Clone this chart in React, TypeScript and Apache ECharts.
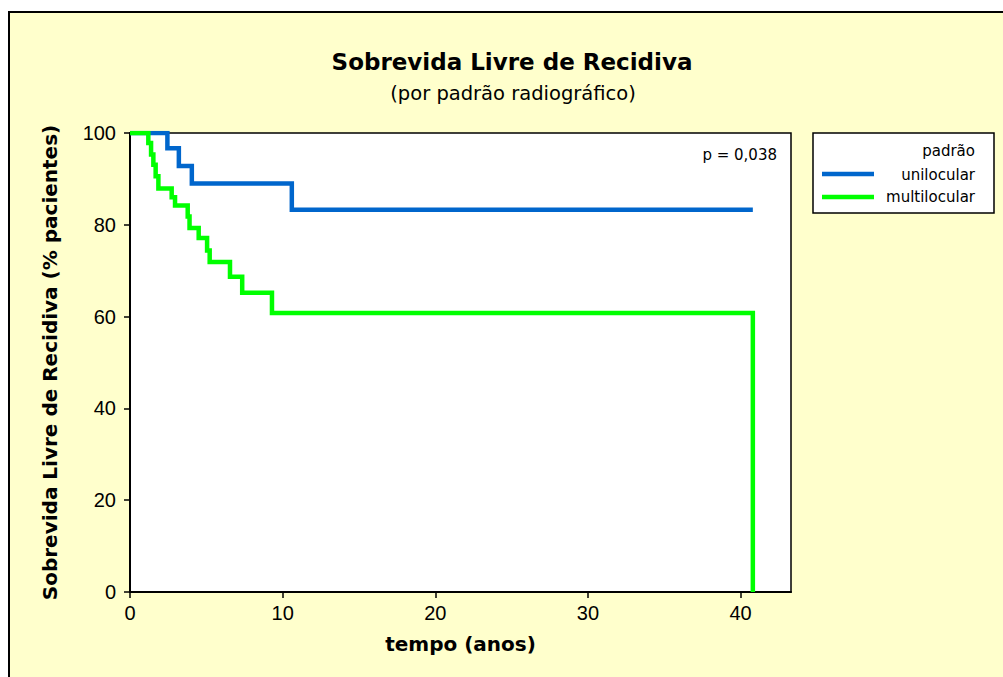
import React, { useEffect, useRef } from "react";
import * as echarts from "echarts";

const titleText = "Sobrevida Livre de Recidiva";
const subtitleText = "(por padrão radiográfico)";
const xAxisName = "tempo (anos)";
const yAxisName = "Sobrevida Livre de Recidiva (% pacientes)";
const pValueText = "p = 0,038";
const legendTitle = "padrão";

const xTicks = [0, 10, 20, 30, 40];
const yTicks = [0, 20, 40, 60, 80, 100];

// Kaplan-Meier steps: [time (years), survival (%)]
const unilocularTimes = [0, 2.45, 3.2, 4.05, 10.6, 40.8];
const unilocularValues = [100, 96.7, 92.8, 89.0, 83.3, 83.3];

const multilocularTimes = [0, 1.2, 1.38, 1.53, 1.68, 1.86, 2.73, 2.95, 3.78, 3.9, 4.5, 5.05, 5.22, 6.55, 7.35, 9.3, 40.8];
const multilocularValues = [100, 97.8, 95.3, 93.1, 90.6, 87.9, 86.0, 84.2, 81.8, 79.3, 77.1, 74.4, 71.9, 68.7, 65.2, 60.8, 0];

const seriesNames = ["unilocular", "multilocular"];
const seriesColors = ["#0066CC", "#00FF00"];

export default function App() {
  const ref = useRef<HTMLDivElement>(null);
  useEffect(() => {
    if (!ref.current) return;
    const chart = echarts.init(ref.current, undefined, { renderer: "svg" });
    const font = "'Liberation Sans', Arial, sans-serif";
    const wideFont = "'DejaVu Sans', Verdana, sans-serif";
    const uni = unilocularTimes.map((t, i) => [t, unilocularValues[i]]);
    const multi = multilocularTimes.map((t, i) => [t, multilocularValues[i]]);
    chart.setOption({
      animation: false,
      backgroundColor: "#ffffff",
      grid: {
        left: 130,
        top: 133,
        right: 212,
        bottom: 85,
        show: true,
        backgroundColor: "#ffffff",
        borderColor: "#000000",
        borderWidth: 1.5,
      },
      xAxis: {
        type: "value",
        min: 0,
        max: 43.3,
        interval: 10,
        name: xAxisName,
        nameLocation: "middle",
        nameGap: 42,
        nameTextStyle: { fontFamily: wideFont, fontWeight: "bold", fontSize: 20, color: "#000" },
        axisLine: { lineStyle: { color: "#000", width: 2 } },
        axisTick: { length: 6, lineStyle: { color: "#000", width: 1.5 }, customValues: xTicks },
        axisLabel: { customValues: xTicks, fontFamily: font, fontSize: 20, color: "#000", margin: 11 },
        splitLine: { show: false },
      },
      yAxis: {
        type: "value",
        min: 0,
        max: 100,
        interval: 20,
        name: yAxisName,
        nameLocation: "middle",
        nameGap: 70,
        nameTextStyle: { fontFamily: wideFont, fontWeight: "bold", fontSize: 20, color: "#000" },
        axisLine: { lineStyle: { color: "#000", width: 2 } },
        axisTick: { length: 6, lineStyle: { color: "#000", width: 1.5 }, customValues: yTicks },
        axisLabel: { customValues: yTicks, fontFamily: font, fontSize: 20, color: "#000", margin: 14 },
        splitLine: { show: false },
      },
      series: [
        {
          name: seriesNames[0],
          type: "line",
          step: "end",
          data: uni,
          symbol: "none",
          lineStyle: { color: seriesColors[0], width: 4.5, cap: "butt", join: "miter" },
          z: 2,
        },
        {
          name: seriesNames[1],
          type: "line",
          step: "end",
          data: multi,
          symbol: "none",
          lineStyle: { color: seriesColors[1], width: 4.5, cap: "butt", join: "miter" },
          z: 3,
        },
      ],
      graphic: [
        {
          type: "rect",
          z: -10,
          silent: true,
          shape: { x: 9, y: 12, width: 1010, height: 700 },
          style: { fill: "#FFFFCC", stroke: "#000", lineWidth: 2 },
        },
        {
          type: "text",
          x: 512,
          y: 62,
          style: { text: titleText, fontFamily: wideFont, fontWeight: "bold", fontSize: 23, fill: "#000", textAlign: "center", textVerticalAlign: "middle" },
        },
        {
          type: "text",
          x: 513,
          y: 93,
          style: { text: subtitleText, fontFamily: wideFont, fontSize: 19.5, fill: "#000", textAlign: "center", textVerticalAlign: "middle" },
        },
        {
          type: "text",
          x: 777,
          y: 155,
          style: { text: pValueText, fontFamily: wideFont, fontSize: 15, fill: "#000", textAlign: "right", textVerticalAlign: "middle" },
        },
        {
          type: "rect",
          shape: { x: 813, y: 133, width: 181, height: 80 },
          style: { fill: "#ffffff", stroke: "#000", lineWidth: 1.5 },
        },
        {
          type: "text",
          x: 975,
          y: 151,
          style: { text: legendTitle, fontFamily: wideFont, fontSize: 15, fill: "#000", textAlign: "right", textVerticalAlign: "middle" },
        },
        {
          type: "line",
          shape: { x1: 822, y1: 174, x2: 874, y2: 174 },
          style: { stroke: seriesColors[0], lineWidth: 4.5 },
        },
        {
          type: "text",
          x: 975,
          y: 175,
          style: { text: seriesNames[0], fontFamily: wideFont, fontSize: 15, fill: "#000", textAlign: "right", textVerticalAlign: "middle" },
        },
        {
          type: "line",
          shape: { x1: 822, y1: 197, x2: 874, y2: 197 },
          style: { stroke: seriesColors[1], lineWidth: 4.5 },
        },
        {
          type: "text",
          x: 975,
          y: 197,
          style: { text: seriesNames[1], fontFamily: wideFont, fontSize: 15, fill: "#000", textAlign: "right", textVerticalAlign: "middle" },
        },
      ],
    });
    return () => chart.dispose();
  }, []);
  return <div ref={ref} style={{ position: "fixed", left: 0, top: 0, width: 1003, height: 677 }} />;
}
